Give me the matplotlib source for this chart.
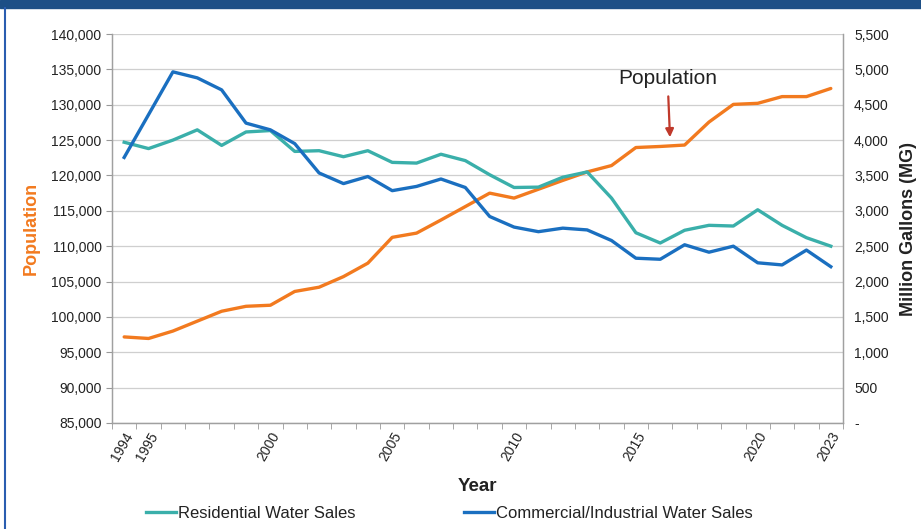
import matplotlib
matplotlib.use('Agg')
import matplotlib.pyplot as plt
from matplotlib.ticker import FuncFormatter, FixedLocator
from matplotlib.patches import Rectangle
from matplotlib.lines import Line2D

anos = list(range(1994, 2024))

populacao = [97170, 96950, 98000, 99400, 100800, 101500, 101650, 103600, 104200, 105700,
             107600, 111250, 111850, 113700, 115600, 117500, 116800, 118050, 119300, 120500,
             121400, 123950, 124100, 124300, 127550, 130050, 130200, 131150, 131150, 132300]

residencial = [3970, 3880, 4000, 4145, 3925, 4115, 4135, 3840, 3850, 3765,
               3850, 3685, 3675, 3800, 3710, 3510, 3330, 3335, 3475, 3550,
               3180, 2690, 2545, 2725, 2795, 2785, 3015, 2795, 2620, 2500]

comercial = [3755, 4360, 4965, 4880, 4710, 4240, 4145, 3950, 3535, 3385,
             3485, 3285, 3345, 3450, 3330, 2920, 2770, 2705, 2755, 2730,
             2580, 2330, 2315, 2520, 2415, 2500, 2265, 2235, 2445, 2210]

anos_rotulo = [1994, 1995, 2000, 2005, 2010, 2015, 2020, 2023]

laranja = '#f27a1f'
verde = '#3aafaa'
azul = '#1a6fc0'

plt.rcParams['font.family'] = ['Liberation Sans', 'DejaVu Sans']

fig = plt.figure(figsize=(9.21, 5.29), dpi=100)
ax = fig.add_axes([0.1216, 0.2004, 0.7937, 0.7353])
ax2 = ax.twinx()

x = list(range(len(anos)))

ax.plot(x, populacao, color=laranja, lw=2.4, solid_capstyle='round', zorder=3)
l1, = ax2.plot(x, residencial, color=verde, lw=2.4, label='Residential Water Sales')
l2, = ax2.plot(x, comercial, color=azul, lw=2.4, label='Commercial/Industrial Water Sales')

ax.set_xlim(-0.5, len(anos) - 0.5)
ax.set_ylim(85000, 140000)
ax2.set_ylim(0, 5500)

ax.set_yticks(range(85000, 140001, 5000))
ax.yaxis.set_major_formatter(FuncFormatter(lambda v, p: f'{int(v):,}'))
ax2.set_yticks(range(0, 5501, 500))
ax2.yaxis.set_major_formatter(FuncFormatter(lambda v, p: '-' if v == 0 else f'{int(v):,}'))

ax.set_xticks([anos.index(a) for a in anos_rotulo])
ax.set_xticklabels([str(a) for a in anos_rotulo], rotation=60, ha='right',
                   rotation_mode='anchor', fontsize=10, color='#222222')
ax.xaxis.set_minor_locator(FixedLocator([i - 0.5 for i in range(len(anos) + 1)]))
ax.tick_params(axis='x', which='major', length=0, pad=5)
ax.tick_params(axis='x', which='minor', length=4, color='#999999')

ax.tick_params(axis='y', labelsize=10, colors='#222222', length=4, color='#999999')
ax2.tick_params(axis='y', labelsize=10, colors='#222222', length=0, pad=8)

ax.grid(axis='y', color='#cfcfcf', lw=0.9)
ax.set_axisbelow(True)

for s in ['top']:
    ax.spines[s].set_visible(False)
    ax2.spines[s].set_visible(False)
for a in [ax, ax2]:
    for s in ['left', 'right', 'bottom']:
        a.spines[s].set_color('#a0a0a0')
        a.spines[s].set_linewidth(0.9)

ax.set_ylabel('Population', color=laranja, fontsize=13, fontweight='bold', labelpad=8)
ax2.set_ylabel('Million Gallons (MG)', color='#222222', fontsize=13, fontweight='bold', labelpad=8)
ax.set_xlabel('Year', fontsize=13.5, fontweight='bold', color='#222222', labelpad=10)

ax.annotate('Population', xy=(22.4, 125400), xytext=(22.3, 133700),
            fontsize=15, color='#222222', ha='center', va='center',
            arrowprops=dict(arrowstyle='-|>', color='#c0392b', lw=1.6,
                            shrinkA=4, shrinkB=0, mutation_scale=12))

fig.legend(handles=[l1, l2], loc='center', bbox_to_anchor=(0.488, 0.03), ncol=2,
           frameon=False, fontsize=12, handlelength=1.8, handletextpad=0.15,
           columnspacing=6.5, labelcolor='#222222')

# moldura do slide
fig.patches.append(Rectangle((0, 0.985), 1, 0.015, transform=fig.transFigure,
                             color='#1d4f86', zorder=0))
fig.lines.append(Line2D([0.005, 0.005], [0, 0.985], transform=fig.transFigure,
                        color='#2a5db0', lw=1.5))

fig.savefig('out.png', dpi=100)
